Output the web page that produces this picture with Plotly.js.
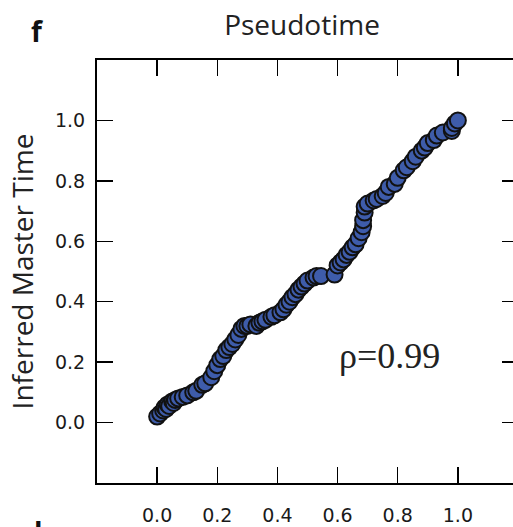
<!DOCTYPE html>
<html>
<head>
<meta charset="utf-8">
<script src="https://cdn.plot.ly/plotly-3.0.1.min.js"></script>
<style>
html,body{margin:0;padding:0;overflow:hidden;background:#fff;}
#chart{width:520px;height:545px;}
</style>
</head>
<body>
<div id="chart"></div>
<script>
// Pseudotime (x) vs Inferred Master Time (y)
const pseudotime = [0.00,0.01,0.02,0.025,0.03,0.035,0.04,0.05,0.055,0.06,0.07,0.085,0.10,0.12,0.13,0.15,0.16,0.18,0.19,0.20,
  0.21,0.22,0.23,0.24,0.25,0.26,0.27,0.28,0.29,0.30,0.31,0.33,0.34,0.35,0.36,0.38,0.39,0.41,0.42,0.43,
  0.44,0.45,0.46,0.47,0.48,0.49,0.50,0.52,0.53,0.545,0.59,0.60,0.61,0.62,0.63,0.64,0.65,0.66,0.67,0.68,0.685,
  0.685,0.69,0.69,0.70,0.72,0.73,0.75,0.76,0.77,0.79,0.80,0.82,0.83,0.85,0.86,0.88,0.89,0.90,0.92,0.93,
  0.95,0.98,0.98,0.99,1.00];
const masterTime = [0.02,0.03,0.04,0.05,0.045,0.06,0.055,0.07,0.065,0.075,0.08,0.085,0.09,0.10,0.105,0.125,0.13,0.15,0.17,0.19,
  0.21,0.22,0.24,0.25,0.26,0.275,0.29,0.31,0.32,0.32,0.325,0.32,0.33,0.335,0.34,0.35,0.355,0.365,0.375,0.39,
  0.40,0.415,0.425,0.44,0.45,0.46,0.47,0.48,0.485,0.485,0.49,0.52,0.53,0.54,0.555,0.565,0.58,0.59,0.61,0.63,0.65,
  0.67,0.695,0.715,0.725,0.735,0.74,0.75,0.76,0.78,0.79,0.81,0.835,0.845,0.865,0.88,0.90,0.91,0.925,0.935,0.95,
  0.96,0.965,0.975,0.99,1.00];
const tickVals = [0.0,0.2,0.4,0.6,0.8,1.0];
const tickText = ["0.0","0.2","0.4","0.6","0.8","1.0"];
const rhoText = "ρ=0.99";

const trace = {
  x: pseudotime, y: masterTime, type: 'scatter', mode: 'markers',
  marker: {size: 16, color: '#3e5caa', line: {color: '#111', width: 2}},
  hoverinfo: 'skip'
};

const axisCommon = {
  range: [-0.2, 1.2], showgrid: false, zeroline: false,
  showline: true, linecolor: '#000', linewidth: 2, mirror: 'ticks',
  ticks: 'inside', ticklen: 16, tickwidth: 1.5, tickcolor: '#000',
  tickmode: 'array', tickvals: tickVals, ticktext: tickText,
  tickfont: {family: 'DejaVu Sans', size: 19, color: '#1a1a1a'}
};

// figure is taller than the 527px window so the next panel's letter "b" is cut at the bottom edge
const H = 545;
const layout = {
  width: 520, height: H,
  margin: {l: 97, r: 2, t: 60, b: H - 483},
  paper_bgcolor: '#fff', plot_bgcolor: '#fff',
  showlegend: false,
  title: {text: 'Pseudotime', x: 0.487, xref: 'paper', y: 1 - 25 / H, yref: 'container', yanchor: 'middle',
          font: {family: 'Open Sans', size: 28, color: '#222'}},
  xaxis: Object.assign({}, axisCommon, {ticklabelstandoff: 14}),
  yaxis: Object.assign({}, axisCommon, {ticklabelstandoff: 6,
    title: {text: 'Inferred Master Time', standoff: 13, font: {family: 'Open Sans', size: 28, color: '#222'}}}),
  annotations: [
    {text: rhoText, x: 0.773, y: 0.219, xref: 'x', yref: 'y', showarrow: false,
     xanchor: 'center', yanchor: 'middle',
     font: {family: 'Liberation Serif', size: 36, color: '#222'}}
  ]
};
// panel letters placed in pixel space via paper fractions
const pw = 520 - 97 - 2, ph = 483 - 60;
layout.annotations.push({text: '<b>f</b>', x: (37 - 97) / pw, y: (483 - 31) / ph, xref: 'paper', yref: 'paper',
  xanchor: 'center', yanchor: 'middle', showarrow: false, font: {family: 'Open Sans', size: 28, color: '#111'}});
layout.annotations.push({text: '<b>b</b>', x: (43 - 97) / pw, y: (483 - 532) / ph, xref: 'paper', yref: 'paper',
  xanchor: 'center', yanchor: 'middle', showarrow: false, font: {family: 'Open Sans', size: 28, color: '#111'}});

Plotly.newPlot('chart', [trace], layout, {displayModeBar: false, staticPlot: true});
</script>
</body>
</html>
